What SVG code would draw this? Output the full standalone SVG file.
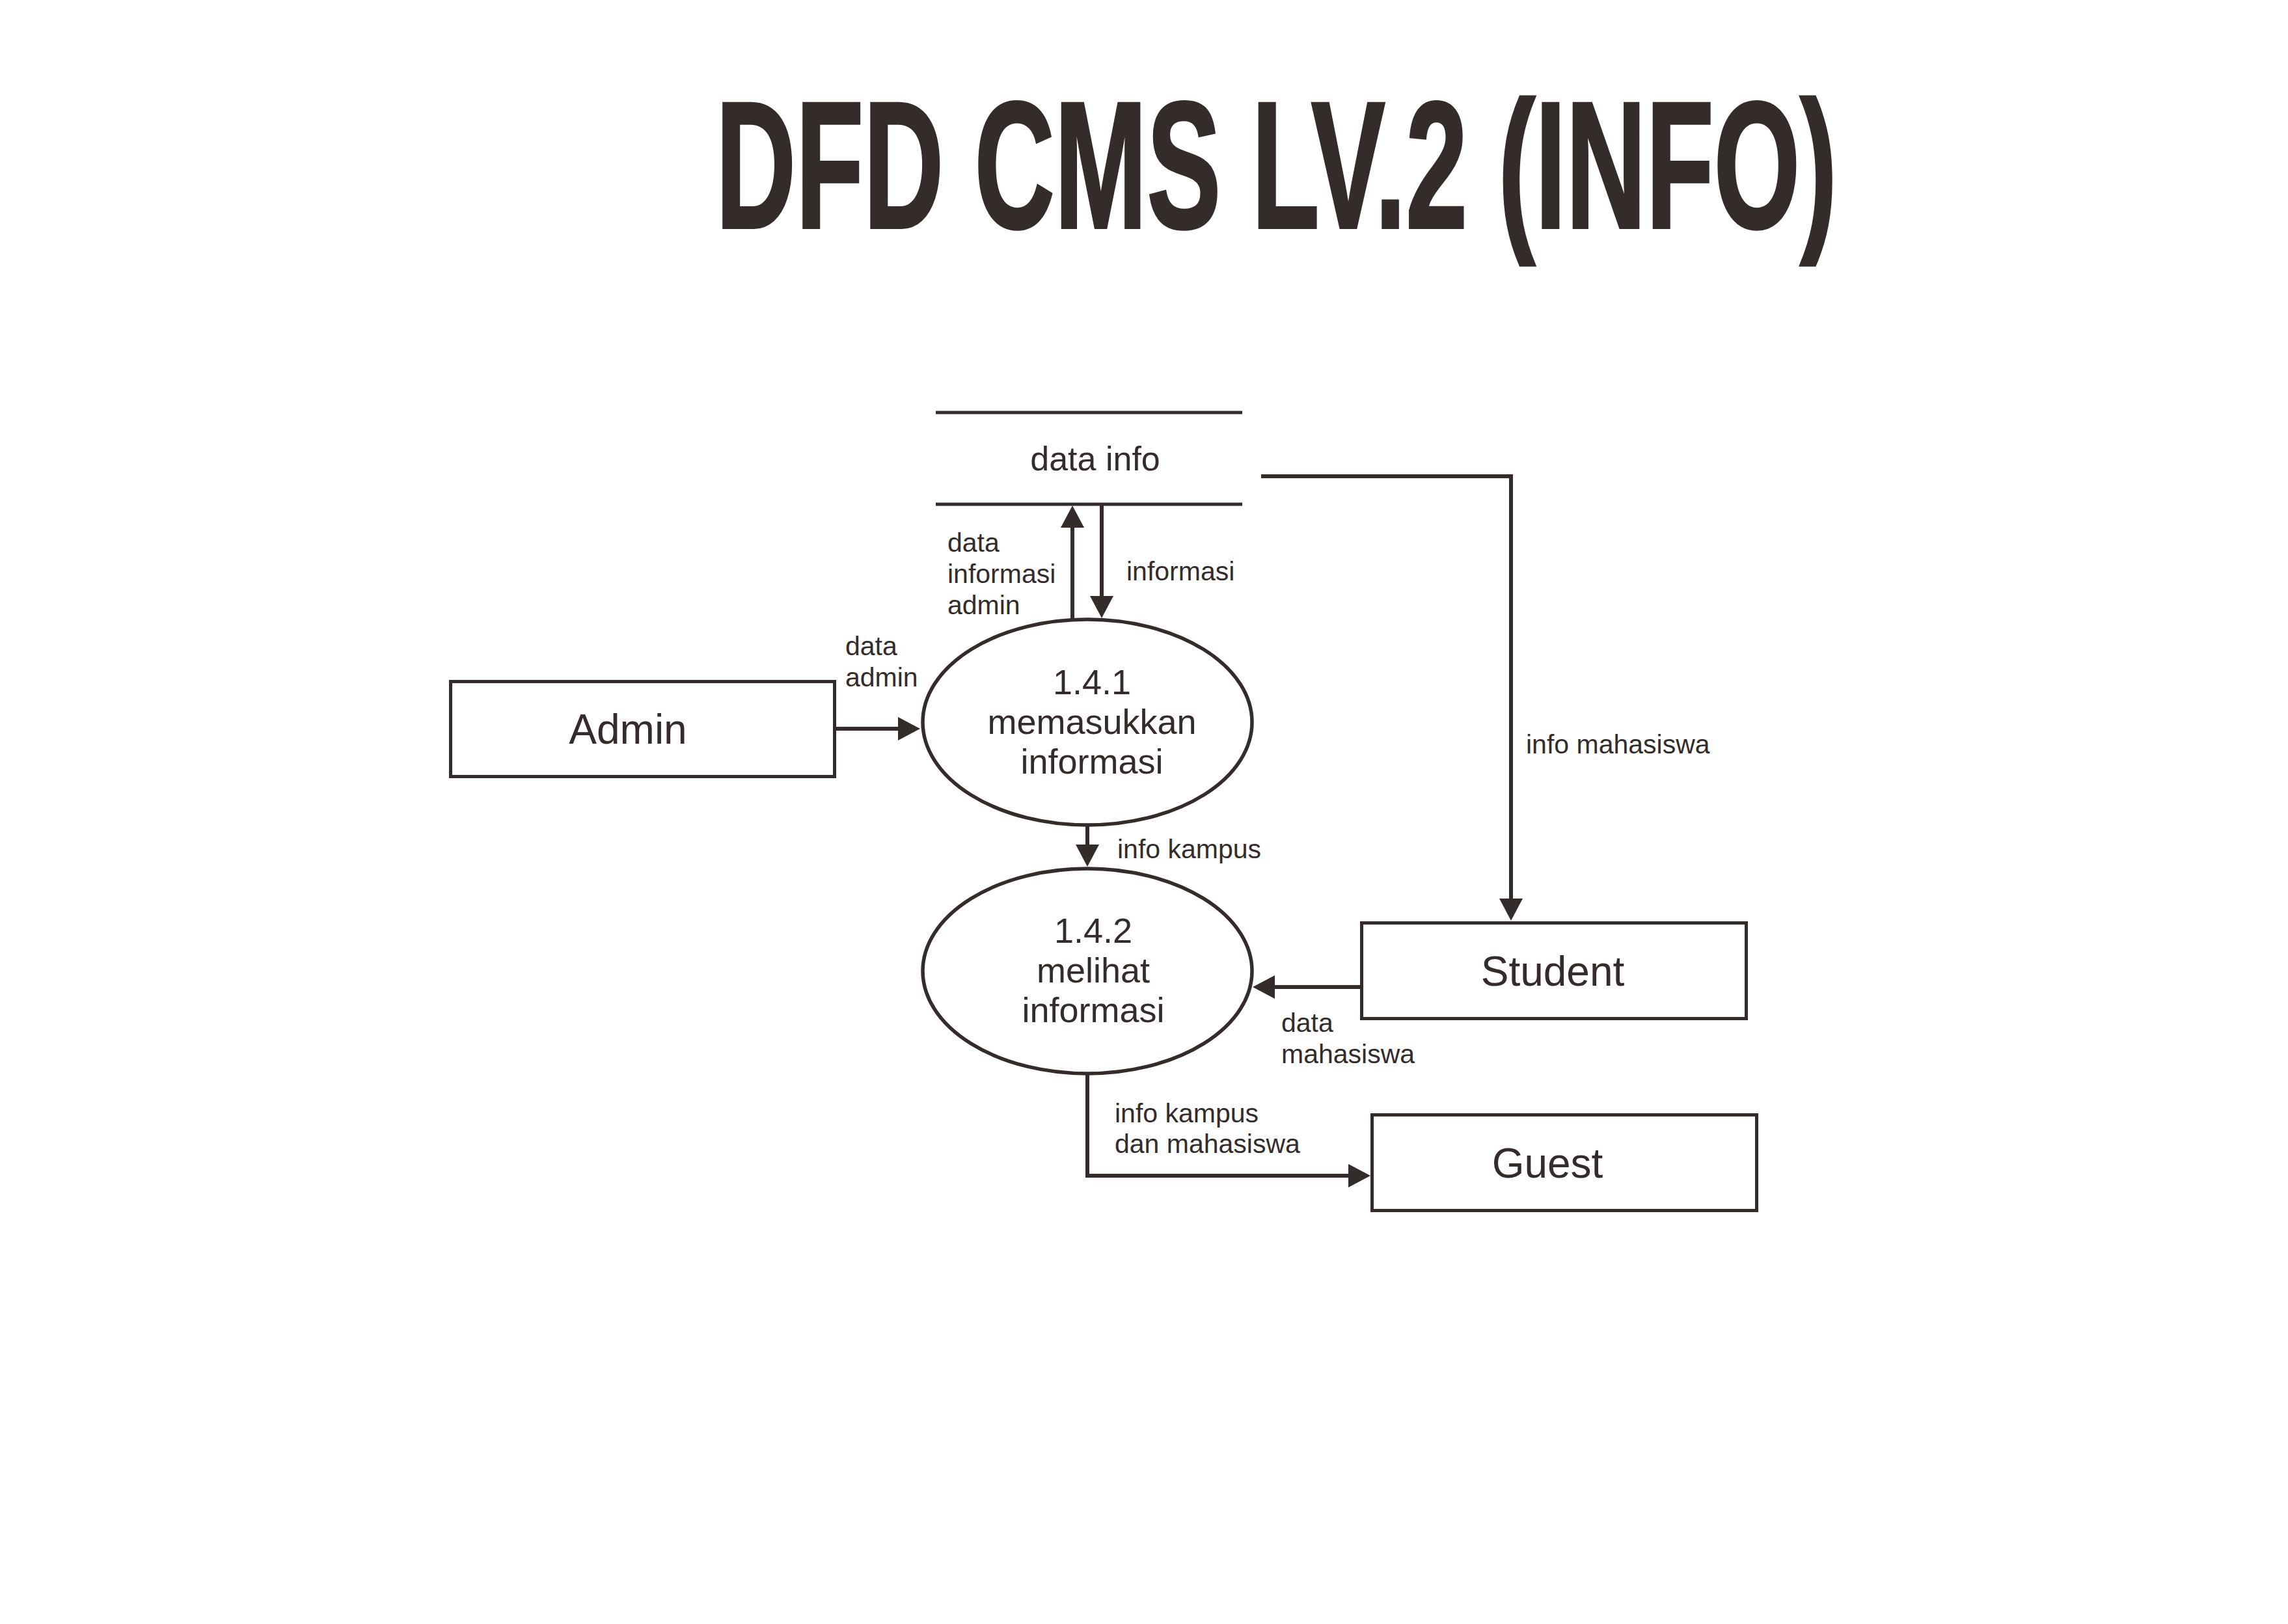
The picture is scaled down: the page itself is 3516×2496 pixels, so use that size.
<svg xmlns="http://www.w3.org/2000/svg" width="3516" height="2496" viewBox="0 0 3516 2496">
<style>
.ln{fill:none;stroke:#342c2a;stroke-width:6}
.box{fill:#fff;stroke:#342c2a;stroke-width:5}
.proc{fill:#fff;stroke:#342c2a;stroke-width:5.5}
.store{stroke:#342c2a;stroke-width:5}
.big{font-family:"Liberation Sans",Arial,sans-serif;font-size:64px;fill:#342c2a;text-anchor:middle}
.mid{font-family:"Liberation Sans",Arial,sans-serif;font-size:54px;fill:#342c2a;text-anchor:middle}
.sm{font-family:"Liberation Sans",Arial,sans-serif;font-size:41px;fill:#342c2a}
.title{font-family:"Liberation Sans",Arial,sans-serif;font-size:278px;font-weight:bold;fill:#342c2a;stroke:#342c2a;stroke-width:4;stroke-linejoin:miter}
</style>
<defs>
<marker id="arr" viewBox="0 0 34 36" markerWidth="34" markerHeight="36" refX="1" refY="18" orient="auto" markerUnits="userSpaceOnUse">
<path d="M0,0 L34,18 L0,36 Z" fill="#342c2a"/>
</marker>
</defs>
<rect width="3516" height="2496" fill="#fff"/>
<text class="title" transform="translate(1100 350) scale(0.613 1)" x="0" y="0">DFD CMS LV.2 (INFO)</text>

<g id="connectors">
<line class="ln" x1="1285" y1="1120" x2="1381" y2="1120" marker-end="url(#arr)"/>
<line class="ln" x1="1648" y1="951" x2="1648" y2="810" marker-end="url(#arr)"/>
<line class="ln" x1="1693" y1="777" x2="1693" y2="917" marker-end="url(#arr)"/>
<line class="ln" x1="1671" y1="1270" x2="1671" y2="1299" marker-end="url(#arr)"/>
<polyline class="ln" points="1938,732 2322,732 2322,1382" marker-end="url(#arr)"/>
<line class="ln" x1="2091" y1="1517" x2="1958" y2="1517" marker-end="url(#arr)"/>
<polyline class="ln" points="1671,1652 1671,1807 2073,1807" marker-end="url(#arr)"/>
<text class="sm" x="1456" y="848">data</text>
<text class="sm" x="1456" y="896">informasi</text>
<text class="sm" x="1456" y="944">admin</text>
<text class="sm" x="1731" y="892">informasi</text>
<text class="sm" x="1299" y="1007">data</text>
<text class="sm" x="1299" y="1055">admin</text>
<text class="sm" x="1717" y="1319">info kampus</text>
<text class="sm" x="2345" y="1158">info mahasiswa</text>
<text class="sm" x="1969" y="1586">data</text>
<text class="sm" x="1969" y="1634">mahasiswa</text>
<text class="sm" x="1713" y="1725">info kampus</text>
<text class="sm" x="1713" y="1772">dan mahasiswa</text>
</g>

<g id="store-data-info">
<line class="store" x1="1438" y1="634" x2="1909" y2="634"/>
<line class="store" x1="1438" y1="775" x2="1909" y2="775"/>
<text class="mid" x="1683" y="723" style="font-size:52px">data info</text>
</g>

<g id="admin">
<rect class="box" x="692.5" y="1047.5" width="590" height="146"/>
<text class="big" x="965" y="1143">Admin</text>
</g>

<g id="proc-141">
<ellipse class="proc" cx="1671" cy="1110" rx="253" ry="158"/>
<text class="mid" x="1678" y="1067">1.4.1</text>
<text class="mid" x="1678" y="1128">memasukkan</text>
<text class="mid" x="1678" y="1189">informasi</text>
</g>

<g id="proc-142">
<ellipse class="proc" cx="1671" cy="1492.5" rx="253" ry="157.5"/>
<text class="mid" x="1680" y="1449">1.4.2</text>
<text class="mid" x="1680" y="1510">melihat</text>
<text class="mid" x="1680" y="1571">informasi</text>
</g>

<g id="student">
<rect class="box" x="2092.5" y="1418.5" width="591" height="147"/>
<text class="big" x="2386" y="1515">Student</text>
</g>

<g id="guest">
<rect class="box" x="2108.5" y="1713.5" width="591" height="147"/>
<text class="big" x="2378" y="1810">Guest</text>
</g>
</svg>
